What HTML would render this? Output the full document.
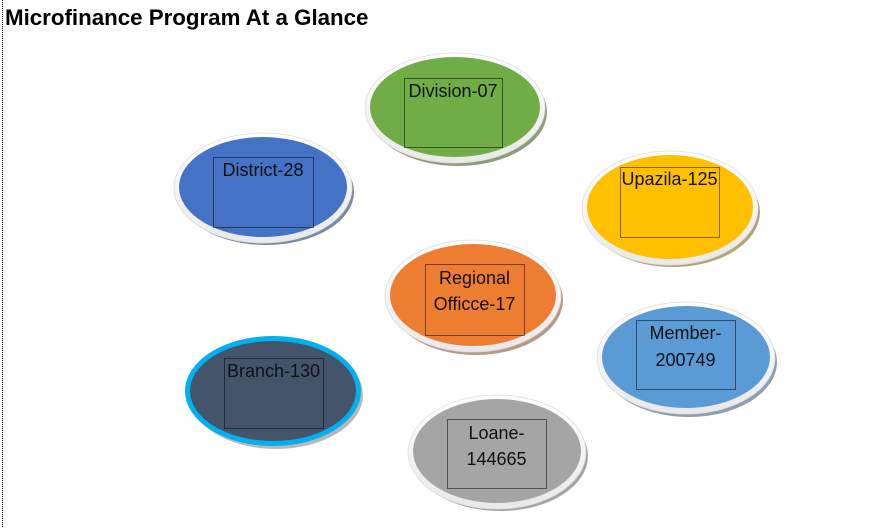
<!DOCTYPE html>
<html>
<head>
<meta charset="utf-8">
<style>
html,body{margin:0;padding:0;background:#fff;}
body{width:872px;height:528px;overflow:hidden;position:relative;}
svg{position:absolute;left:0;top:0;}
text{font-family:"Liberation Sans",Arial,sans-serif;fill:#111;}
rect.tb{fill:none;stroke:#000;stroke-width:1;stroke-dasharray:1,1;}
</style>
</head>
<body>
<svg width="872" height="528" viewBox="0 0 872 528" xmlns="http://www.w3.org/2000/svg">
<defs>
<linearGradient id="rim" x1="0" y1="0" x2="0" y2="1">
<stop offset="0" stop-color="#ffffff"/>
<stop offset="1" stop-color="#e9e9e9"/>
</linearGradient>
</defs>
<line x1="2.5" y1="0" x2="2.5" y2="528" stroke="#000" stroke-width="1" stroke-dasharray="1,1" shape-rendering="crispEdges"/>
<text x="5" y="25" font-size="22.3" font-weight="bold" style="fill:#000">Microfinance Program At a Glance</text>

<!-- Division -->
<ellipse cx="458" cy="112" rx="89" ry="54" fill="#8e9c7e"/>
<ellipse cx="455" cy="108" rx="90" ry="55" fill="url(#rim)" stroke="#dedede" stroke-width="0.8"/>
<ellipse cx="455" cy="107" rx="85" ry="50" fill="#70AD47"/>
<rect class="tb" x="404.5" y="78.5" width="98" height="69" shape-rendering="crispEdges"/>
<text x="453" y="97" font-size="18" text-anchor="middle">Division-07</text>

<!-- District -->
<ellipse cx="266" cy="192" rx="88" ry="53" fill="#7a8aa6"/>
<ellipse cx="263" cy="188" rx="89" ry="55" fill="url(#rim)" stroke="#dedede" stroke-width="0.8"/>
<ellipse cx="263" cy="187" rx="84" ry="50" fill="#4472C4"/>
<rect class="tb" x="213.5" y="157.5" width="100" height="70" shape-rendering="crispEdges"/>
<text x="263" y="176" font-size="18" text-anchor="middle">District-28</text>

<!-- Upazila -->
<ellipse cx="673" cy="212" rx="87" ry="55" fill="#b3a478"/>
<ellipse cx="670" cy="208" rx="88" ry="57" fill="url(#rim)" stroke="#dedede" stroke-width="0.8"/>
<ellipse cx="670" cy="207" rx="83" ry="52" fill="#FFC000"/>
<rect class="tb" x="620.5" y="167.5" width="99" height="70" shape-rendering="crispEdges"/>
<text x="669.5" y="185" font-size="18" text-anchor="middle">Upazila-125</text>

<!-- Regional -->
<ellipse cx="476" cy="300" rx="87" ry="55" fill="#b69a88"/>
<ellipse cx="473" cy="296" rx="88" ry="56" fill="url(#rim)" stroke="#dedede" stroke-width="0.8"/>
<ellipse cx="473" cy="295" rx="83" ry="51" fill="#ED7D31"/>
<rect class="tb" x="425.5" y="264.5" width="99" height="71" shape-rendering="crispEdges"/>
<text x="474.5" y="284" font-size="18" text-anchor="middle">Regional</text>
<text x="474.5" y="310" font-size="18" text-anchor="middle">Officce-17</text>

<!-- Member -->
<ellipse cx="689" cy="362" rx="88" ry="55" fill="#8e9db0"/>
<ellipse cx="686" cy="358" rx="89" ry="56" fill="url(#rim)" stroke="#dedede" stroke-width="0.8"/>
<ellipse cx="686" cy="357" rx="84" ry="51" fill="#5B9BD5"/>
<rect class="tb" x="636.5" y="320.5" width="99" height="69" shape-rendering="crispEdges"/>
<text x="685.5" y="339" font-size="18" text-anchor="middle">Member-</text>
<text x="685.5" y="366" font-size="18" text-anchor="middle">200749</text>

<!-- Branch -->
<ellipse cx="276" cy="395" rx="87" ry="54" fill="#b8b8b8"/>
<ellipse cx="273" cy="391" rx="88" ry="55" fill="#00B0F0"/>
<ellipse cx="273" cy="391" rx="83" ry="50" fill="#44546A"/>
<rect class="tb" x="224.5" y="358.5" width="99" height="70" shape-rendering="crispEdges"/>
<text x="273.5" y="377" font-size="18" text-anchor="middle">Branch-130</text>

<!-- Loane -->
<ellipse cx="500" cy="456" rx="88" ry="55" fill="#a4a4a4"/>
<ellipse cx="497" cy="452" rx="89" ry="57" fill="url(#rim)" stroke="#dedede" stroke-width="0.8"/>
<ellipse cx="497" cy="451" rx="84" ry="52" fill="#A5A5A5"/>
<rect class="tb" x="447.5" y="419.5" width="99" height="69" shape-rendering="crispEdges"/>
<text x="496.5" y="439" font-size="18" text-anchor="middle">Loane-</text>
<text x="496.5" y="465" font-size="18" text-anchor="middle">144665</text>
</svg>
</body>
</html>
